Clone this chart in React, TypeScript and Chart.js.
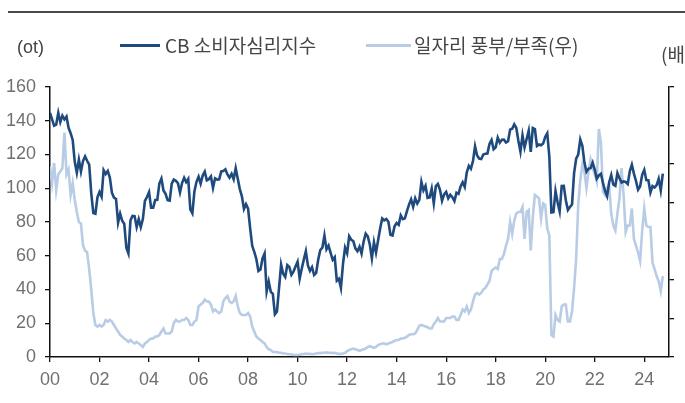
import React, { useEffect, useRef } from "react";
import { Chart, registerables } from "chart.js";

Chart.register(...registerables);

// Monthly values, Jan 2000 .. Oct 2024
const cbIndex: number[] = [
  144.7, 140.8, 137.1, 137.7, 144.7, 139.2, 143.0, 140.8, 142.5, 135.8, 132.6, 128.6,
  115.7, 109.2, 116.9, 109.9, 116.1, 118.9, 116.3, 114.0, 97.0, 85.3, 84.9, 94.6,
  97.8, 95.0, 110.7, 108.5, 110.3, 106.3, 97.4, 94.5, 93.7, 79.6, 84.9, 80.7,
  78.8, 64.8, 61.4, 81.0, 83.6, 83.5, 77.0, 81.7, 77.0, 81.7, 92.5, 94.8,
  97.7, 88.5, 88.5, 93.0, 93.1, 102.8, 105.7, 98.7, 96.7, 92.9, 92.6, 102.7,
  105.1, 104.4, 103.0, 97.5, 103.1, 106.2, 103.6, 105.5, 87.5, 85.2, 98.3, 103.8,
  106.8, 102.7, 107.5, 109.8, 104.7, 105.4, 107.0, 100.2, 105.9, 105.1, 105.3, 110.0,
  110.2, 111.2, 108.2, 106.3, 108.5, 105.3, 111.9, 105.6, 99.5, 95.2, 87.8, 90.6,
  87.9, 76.4, 65.9, 62.3, 58.1, 51.0, 51.9, 58.5, 61.4, 38.8, 44.7, 38.6,
  37.4, 25.3, 26.9, 40.8, 54.8, 49.3, 47.4, 54.5, 53.4, 48.7, 50.6, 53.6,
  56.5, 46.4, 52.3, 57.7, 62.7, 54.3, 51.0, 53.2, 48.6, 49.9, 57.8, 63.4,
  64.8, 72.0, 63.8, 66.0, 61.7, 57.6, 59.2, 45.2, 46.4, 40.9, 55.2, 64.8,
  61.5, 71.6, 69.5, 68.7, 64.4, 62.7, 65.4, 61.3, 68.4, 73.1, 71.5, 66.7,
  58.4, 68.0, 61.9, 69.0, 76.2, 82.1, 81.0, 81.8, 80.2, 72.4, 72.0, 77.5,
  79.4, 78.3, 83.9, 81.7, 82.2, 86.4, 90.3, 93.4, 89.0, 94.1, 91.0, 93.1,
  103.8, 98.8, 101.4, 94.3, 94.6, 99.8, 91.0, 101.3, 102.6, 99.1, 92.6, 96.3,
  97.8, 94.0, 96.1, 94.7, 92.4, 97.4, 96.7, 101.1, 103.5, 100.8, 109.4, 113.3,
  111.6, 116.1, 124.9, 119.4, 117.6, 117.3, 120.0, 120.4, 120.6, 126.2, 128.6, 123.1,
  124.3, 130.0, 127.0, 128.7, 128.8, 127.1, 127.9, 134.7, 135.3, 137.9, 135.7, 128.1,
  121.7, 131.4, 124.2, 129.2, 134.1, 121.5, 135.7, 135.1, 125.1, 125.9, 125.5, 126.5,
  130.4, 132.6, 118.8, 85.7, 85.9, 98.3, 91.7, 86.3, 101.3, 101.4, 92.9, 87.1,
  88.9, 90.4, 109.0, 117.5, 120.0, 128.9, 125.1, 115.2, 109.8, 111.6, 111.9, 115.2,
  111.1, 105.7, 107.6, 108.6, 103.2, 98.4, 95.3, 103.6, 107.8, 102.2, 101.4, 109.0,
  106.0, 103.4, 104.0, 103.7, 102.5, 110.1, 114.0, 108.7, 104.3, 99.1, 101.0, 108.0,
  110.9, 104.8, 104.7, 97.5, 101.3, 100.4, 101.9, 105.6, 98.7, 108.7,
];

const jobsRatio: number[] = [
  4.94, 4.51, 5.03, 4.33, 4.73, 4.81, 4.90, 5.82, 4.73, 4.86, 4.20, 4.51,
  4.07, 3.76, 3.50, 3.46, 2.89, 2.76, 2.71, 2.28, 1.75, 1.14, 0.83, 0.79,
  0.83, 0.79, 0.83, 0.96, 0.92, 0.96, 0.92, 0.83, 0.74, 0.66, 0.57, 0.53,
  0.48, 0.44, 0.39, 0.44, 0.39, 0.35, 0.39, 0.35, 0.31, 0.26, 0.35, 0.39,
  0.44, 0.48, 0.48, 0.53, 0.53, 0.57, 0.66, 0.74, 0.61, 0.61, 0.61, 0.66,
  0.88, 0.96, 0.92, 0.92, 0.96, 0.96, 1.01, 0.96, 0.83, 0.83, 0.92, 0.96,
  1.31, 1.36, 1.40, 1.49, 1.44, 1.44, 1.36, 1.18, 1.23, 1.18, 1.14, 1.18,
  1.44, 1.53, 1.58, 1.44, 1.40, 1.44, 1.58, 1.31, 1.14, 1.09, 1.09, 1.09,
  1.14, 1.05, 0.79, 0.66, 0.53, 0.48, 0.44, 0.39, 0.35, 0.26, 0.20, 0.18,
  0.13, 0.13, 0.13, 0.11, 0.11, 0.09, 0.09, 0.08, 0.07, 0.07, 0.05, 0.05,
  0.05, 0.06, 0.07, 0.08, 0.09, 0.08, 0.08, 0.07, 0.08, 0.09, 0.10, 0.10,
  0.11, 0.11, 0.12, 0.11, 0.11, 0.10, 0.11, 0.09, 0.08, 0.08, 0.09, 0.11,
  0.15, 0.18, 0.20, 0.22, 0.20, 0.18, 0.16, 0.18, 0.20, 0.22, 0.26, 0.28,
  0.26, 0.24, 0.26, 0.31, 0.33, 0.35, 0.35, 0.33, 0.35, 0.37, 0.39, 0.42,
  0.44, 0.44, 0.48, 0.48, 0.50, 0.53, 0.57, 0.59, 0.59, 0.61, 0.70, 0.81,
  0.83, 0.81, 0.79, 0.77, 0.74, 0.74, 0.85, 0.92, 1.01, 0.92, 0.92, 0.92,
  1.01, 1.01, 1.01, 1.05, 1.05, 0.96, 0.96, 1.09, 1.23, 1.18, 1.31, 1.14,
  1.23, 1.44, 1.62, 1.66, 1.62, 1.66, 1.75, 1.79, 1.88, 1.97, 2.23, 2.28,
  2.32, 2.28, 2.54, 2.54, 2.67, 2.89, 3.06, 3.50, 3.19, 3.54, 3.72, 3.76,
  3.76, 3.89, 3.06, 3.76, 3.81, 2.76, 3.63, 4.20, 4.16, 4.11, 3.59, 3.98,
  3.94, 3.33, 3.15, 0.57, 0.53, 1.09, 0.96, 0.92, 1.31, 1.36, 1.36, 0.92,
  0.92, 1.18, 1.79, 2.54, 3.94, 4.59, 4.99, 4.81, 4.38, 4.81, 5.12, 4.90,
  4.73, 4.55, 5.91, 5.56, 4.29, 4.20, 4.38, 4.46, 3.72, 3.41, 3.28, 3.72,
  4.11, 4.90, 4.20, 3.24, 3.41, 3.41, 3.85, 3.06, 2.89, 2.71, 2.49, 3.28,
  3.85, 3.41, 3.37, 3.37, 2.45, 2.28, 2.10, 1.97, 1.71, 2.10,
];

// x ticks: months since Jan 2000
const xTickMonths: number[] = [0, 24, 48, 72, 96, 120, 144, 168, 192, 216, 240, 264, 288];
const xTickLabels: string[] = ["00", "02", "04", "06", "08", "10", "12", "14", "16", "18", "20", "22", "24"];

const seriesNames: string[] = ["CB 소비자심리지수", "일자리 풍부/부족(우)"];
const leftUnit = "(ot)";
const rightUnit = "(배)";

const DARK = "#1f4a7e";
const LIGHT = "#b8cde5";
const TICK_COLOR = "#707070";
const TEXT_COLOR = "#454545";
const CANVAS_W = 720;
const CANVAS_H = 403;

export default function App() {
  const ref = useRef<HTMLCanvasElement | null>(null);

  useEffect(() => {
    if (!ref.current) return;
    const tickFont = { family: "'Liberation Sans', Arial, sans-serif", size: 18 };
    const chart = new Chart(ref.current, {
      type: "line",
      data: {
        datasets: [
          {
            label: seriesNames[0],
            data: cbIndex.map((y, i) => ({ x: i, y })),
            yAxisID: "y",
            borderColor: DARK,
            borderWidth: 2.6,
            pointRadius: 0,
            tension: 0,
          },
          {
            label: seriesNames[1],
            data: jobsRatio.map((y, i) => ({ x: i, y })),
            yAxisID: "y1",
            borderColor: LIGHT,
            borderWidth: 2.6,
            pointRadius: 0,
            tension: 0,
          },
        ],
      },
      options: {
        responsive: false,
        animation: false,
        devicePixelRatio: 1,
        layout: { padding: { top: 87, left: 0, right: 0, bottom: 0 } },
        plugins: { legend: { display: false }, tooltip: { enabled: false } },
        scales: {
          x: {
            type: "linear",
            min: 0,
            max: 300,
            afterBuildTicks: (s: any) => {
              s.ticks = xTickMonths.map((v) => ({ value: v }));
            },
            afterFit: (s: any) => {
              s.height = CANVAS_H - 357;
            },
            ticks: {
              autoSkip: false,
              maxRotation: 0,
              padding: 7,
              color: TICK_COLOR,
              font: tickFont,
              callback: (v: any) => {
                const k = xTickMonths.indexOf(Number(v));
                return k >= 0 ? xTickLabels[k] : "";
              },
            },
            grid: { drawOnChartArea: false, tickLength: 5, color: "#111", lineWidth: 1.3 },
            border: { display: true, color: "#111", width: 1.5 },
          },
          y: {
            position: "left",
            min: 0,
            max: 160,
            afterFit: (s: any) => {
              s.width = 50;
            },
            ticks: { stepSize: 20, padding: 9, color: TICK_COLOR, font: tickFont },
            grid: { drawOnChartArea: false, tickLength: 5, color: "#111", lineWidth: 1.3 },
            border: { display: true, color: "#111", width: 1.5 },
          },
          y1: {
            position: "right",
            min: 0,
            max: 7,
            afterFit: (s: any) => {
              s.width = CANVAS_W - 669;
            },
            ticks: { stepSize: 1, padding: 13, color: TICK_COLOR, font: tickFont },
            grid: { drawOnChartArea: false, tickLength: 5, color: "#111", lineWidth: 1.3 },
            border: { display: true, color: "#111", width: 1.5 },
          },
        },
      } as any,
    });
    return () => chart.destroy();
  }, []);

  const textStyle: React.CSSProperties = {
    position: "absolute",
    fontFamily: "'Noto Sans CJK KR', 'Liberation Sans', sans-serif",
    fontSize: 19,
    lineHeight: "20px",
    color: TEXT_COLOR,
    whiteSpace: "nowrap",
  };

  return (
    <div
      style={{
        position: "absolute",
        left: 0,
        top: 0,
        width: 685,
        height: 403,
        overflow: "hidden",
        background: "#fff",
      }}
    >
      <canvas
        ref={ref}
        width={CANVAS_W}
        height={CANVAS_H}
        style={{ position: "absolute", left: 0, top: 0, width: CANVAS_W, height: CANVAS_H }}
      />
      <div style={{ position: "absolute", left: 8, top: 11, width: 677, height: 2, background: "#4a4a4a" }} />
      <div style={{ ...textStyle, left: 17, top: 37, fontFamily: "'Liberation Sans', Arial, sans-serif", fontSize: 18 }}>
        {leftUnit}
      </div>
      <div style={{ position: "absolute", left: 120, top: 44, width: 40, height: 3, background: DARK }} />
      <div style={{ ...textStyle, left: 165, top: 35 }}>{seriesNames[0]}</div>
      <div style={{ position: "absolute", left: 366, top: 44, width: 45, height: 3, background: LIGHT }} />
      <div style={{ ...textStyle, left: 414, top: 35 }}>{seriesNames[1]}</div>
      <div style={{ ...textStyle, left: 661, top: 44 }}>{rightUnit}</div>
    </div>
  );
}
